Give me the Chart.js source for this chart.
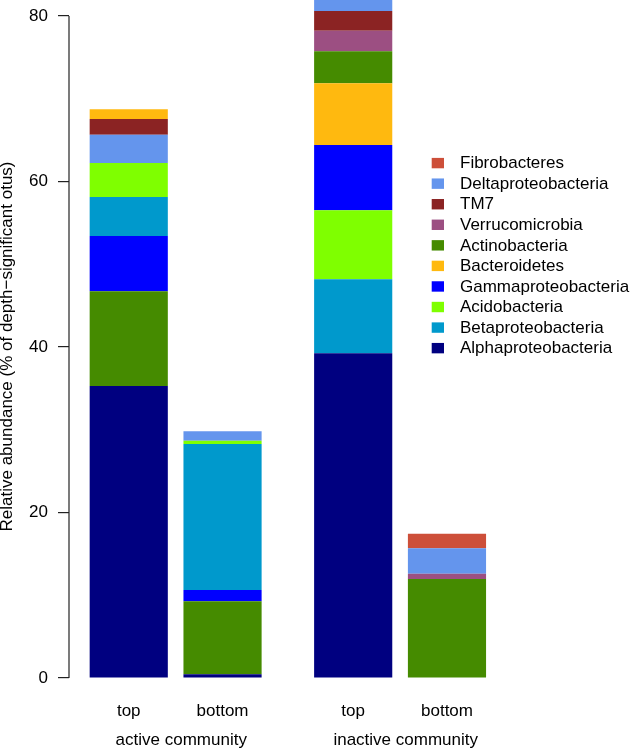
<!DOCTYPE html>
<html>
<head>
<meta charset="utf-8">
<script src="https://cdn.jsdelivr.net/npm/chart.js@4/dist/chart.umd.min.js"></script>
<style>
  html, body { margin: 0; padding: 0; background: #ffffff; }
  #wrap { width: 631px; height: 750px; position: relative; }
</style>
</head>
<body>
<div id="wrap"><canvas id="c"></canvas></div>
<script>
// ---- data ----
const barLabels = ['top', 'bottom', 'top', 'bottom'];
const groupLabels = ['active community', 'inactive community'];
const barGroup = [0, 0, 1, 1];
const yTicks = [0, 20, 40, 60, 80];

const alphaproteobacteria = [35.29, 0.44, 39.24, 0];
const betaproteobacteria  = [4.72, 17.65, 8.94, 0];
const acidobacteria       = [4.11, 0.40, 8.34, 0];
const gammaproteobacteria = [6.68, 1.36, 7.89, 0];
const bacteroidetes       = [1.17, 0, 7.46, 0];
const actinobacteria      = [11.44, 8.83, 3.86, 11.96];
const verrucomicrobia     = [0, 0, 2.49, 0.64];
const tm7                 = [1.89, 0, 2.38, 0];
const deltaproteobacteria = [3.42, 1.13, 2.6, 3.07];
const fibrobacteres       = [0, 0, 0, 1.77];

const legendOrder = ['Fibrobacteres', 'Deltaproteobacteria', 'TM7', 'Verrucomicrobia', 'Actinobacteria',
  'Bacteroidetes', 'Gammaproteobacteria', 'Acidobacteria', 'Betaproteobacteria', 'Alphaproteobacteria'];

// stacking order (bottom to top) in each group
const stackOrderActive = ['Alphaproteobacteria', 'Actinobacteria', 'Gammaproteobacteria', 'Betaproteobacteria',
  'Acidobacteria', 'Deltaproteobacteria', 'TM7', 'Bacteroidetes', 'Verrucomicrobia', 'Fibrobacteres'];
const stackOrderInactive = ['Alphaproteobacteria', 'Betaproteobacteria', 'Acidobacteria', 'Gammaproteobacteria',
  'Bacteroidetes', 'Actinobacteria', 'Verrucomicrobia', 'TM7', 'Deltaproteobacteria', 'Fibrobacteres'];

// ---- styles ----
const values = {
  Alphaproteobacteria: alphaproteobacteria, Betaproteobacteria: betaproteobacteria,
  Acidobacteria: acidobacteria, Gammaproteobacteria: gammaproteobacteria,
  Bacteroidetes: bacteroidetes, Actinobacteria: actinobacteria,
  Verrucomicrobia: verrucomicrobia, TM7: tm7,
  Deltaproteobacteria: deltaproteobacteria, Fibrobacteres: fibrobacteres
};
const colors = {
  Alphaproteobacteria: '#000080', Betaproteobacteria: '#0099CC', Acidobacteria: '#7FFF00',
  Gammaproteobacteria: '#0000FF', Bacteroidetes: '#FFB90F', Actinobacteria: '#458B00',
  Verrucomicrobia: '#9C4F82', TM7: '#8B2323', Deltaproteobacteria: '#6495ED', Fibrobacteres: '#CD4F39'
};
const FONT = "'Liberation Sans', Arial, Helvetica, sans-serif";
const groupGap = 0.393;
const groupLabelShift = 0.06;
const xMin = -0.637, xMax = 5.355;
const yMin = -1.813, yMax = 81.93;

// bar positions from group structure
const barX = [];
barLabels.forEach((_, i) => {
  if (i === 0) barX.push(0);
  else barX.push(barX[i - 1] + 1 + (barGroup[i] !== barGroup[i - 1] ? groupGap : 0));
});
const groupX = groupLabels.map((_, g) => {
  const xs = barX.filter((_, i) => barGroup[i] === g);
  return xs.reduce((a, b) => a + b, 0) / xs.length + groupLabelShift;
});

const stackOrders = [stackOrderActive, stackOrderInactive];
const datasets = [];
stackOrders.forEach((order, g) => {
  order.forEach(name => {
    const pts = [];
    barLabels.forEach((_, i) => {
      if (barGroup[i] === g && values[name][i] > 0) pts.push({ x: barX[i], y: values[name][i] });
    });
    if (pts.length) datasets.push({
      label: name, data: pts, backgroundColor: colors[name], borderWidth: 0,
      categoryPercentage: 1.0, barPercentage: 0.8333
    });
  });
});

const noPad = s => { s.paddingLeft = 0; s.paddingRight = 0; s.paddingTop = 0; s.paddingBottom = 0; };

const axisAndLegend = {
  id: 'axisAndLegend',
  afterDraw(chart) {
    const ctx = chart.ctx;
    const y = chart.scales.y;
    const xLine = chart.chartArea.left;
    ctx.save();
    ctx.strokeStyle = '#222';
    ctx.lineWidth = 1.2;
    ctx.beginPath();
    ctx.moveTo(xLine, y.getPixelForValue(yTicks[0]));
    ctx.lineTo(xLine, y.getPixelForValue(yTicks[yTicks.length - 1]));
    ctx.stroke();
    // legend
    const lx = 431.7, ly = 163.1, pitch = 20.56;
    ctx.font = '17px ' + FONT;
    ctx.textBaseline = 'middle';
    ctx.textAlign = 'left';
    legendOrder.forEach((name, k) => {
      const cy = ly + k * pitch;
      ctx.fillStyle = colors[name];
      ctx.fillRect(lx, cy - 5.2, 12.3, 10.4);
      ctx.fillStyle = '#000';
      ctx.fillText(name, 460, cy + 0.5);
    });
    ctx.restore();
  }
};

new Chart(document.getElementById('c'), {
  type: 'bar',
  data: { datasets },
  options: {
    responsive: true,
    maintainAspectRatio: false,
    animation: false,
    layout: { padding: { left: 0, right: 0, top: 0, bottom: 0 } },
    plugins: { legend: { display: false }, tooltip: { enabled: false } },
    scales: {
      x: {
        type: 'linear', stacked: true, min: xMin, max: xMax, position: 'bottom', weight: 0,
        offset: false,
        grid: { display: false, drawTicks: false, offset: false }, border: { display: false },
        afterBuildTicks: s => { s.ticks = barX.map(v => ({ value: v })); },
        afterFit: s => { s.height = 33; noPad(s); },
        ticks: {
          autoSkip: false, maxRotation: 0, minRotation: 0, padding: 8,
          color: '#000', font: { family: FONT, size: 17 },
          callback: (v, i) => barLabels[i]
        }
      },
      x2: {
        type: 'linear', min: xMin, max: xMax, position: 'bottom', weight: 1,
        offset: false,
        grid: { display: false, drawTicks: false, offset: false }, border: { display: false },
        afterBuildTicks: s => { s.ticks = groupX.map(v => ({ value: v })); },
        afterFit: s => { s.height = 24; noPad(s); },
        ticks: {
          autoSkip: false, maxRotation: 0, minRotation: 0, padding: 4,
          color: '#000', font: { family: FONT, size: 17 },
          callback: (v, i) => groupLabels[i]
        }
      },
      y: {
        type: 'linear', stacked: true, min: yMin, max: yMax,
        afterBuildTicks: s => { s.ticks = yTicks.map(v => ({ value: v })); },
        afterFit: s => { s.width = 69; noPad(s); },
        grid: { display: true, drawOnChartArea: false, drawTicks: true, tickLength: 11, color: '#222', lineWidth: 1.2 },
        border: { display: false },
        ticks: { padding: 10, color: '#000', font: { family: FONT, size: 17 } },
        title: {
          display: true, text: 'Relative abundance (% of depth\u2212significant otus)',
          color: '#000', font: { family: FONT, size: 17, lineHeight: 0.9 }, padding: 0
        }
      }
    }
  },
  plugins: [axisAndLegend]
});
</script>
</body>
</html>
